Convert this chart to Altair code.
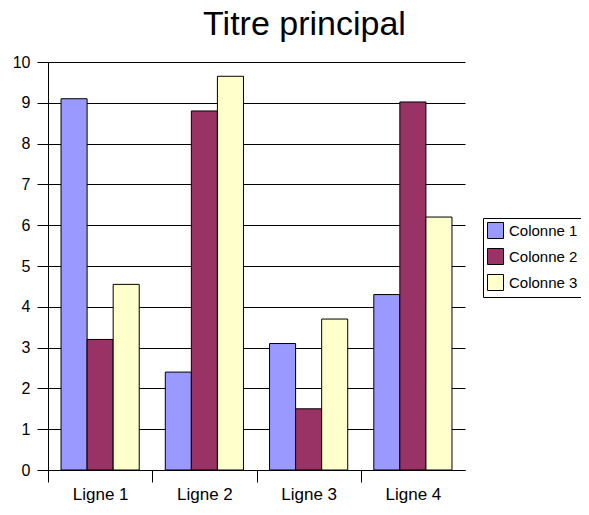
import altair as alt
import pandas as pd

categories = ["Ligne 1", "Ligne 2", "Ligne 3", "Ligne 4"]
series = ["Colonne 1", "Colonne 2", "Colonne 3"]
colonne1 = [9.1, 2.4, 3.1, 4.3]
colonne2 = [3.2, 8.8, 1.5, 9.02]
colonne3 = [4.55, 9.65, 3.7, 6.2]
colors = ["#9999FF", "#993366", "#FFFFCC"]

rows = []
for s, vals in zip(series, [colonne1, colonne2, colonne3]):
    for c, v in zip(categories, vals):
        rows.append({"Ligne": c, "Serie": s, "Valeur": v})
df = pd.DataFrame(rows)

FONT = "Liberation Sans"

chart = alt.Chart(df).mark_bar(stroke="black", strokeWidth=1).encode(
    x=alt.X("Ligne:N", sort=categories, title=None,
            scale=alt.Scale(paddingInner=0.25, paddingOuter=0.125),
            axis=alt.Axis(labelAngle=0, labelFontSize=17, labelFont=FONT, labelColor="black",
                          domainColor="black", tickColor="black", tickSize=12,
                          tickOffset=-52, labelOffset=52, labelPadding=4)),
    xOffset=alt.XOffset("Serie:N", sort=series,
                        scale=alt.Scale(paddingInner=0, paddingOuter=0)),
    y=alt.Y("Valeur:Q", title=None,
            scale=alt.Scale(domain=[0, 10], nice=False),
            axis=alt.Axis(values=list(range(0, 11)), labelFontSize=16, labelFont=FONT,
                          labelColor="black", domainColor="black", tickColor="black",
                          tickSize=11, labelPadding=7, gridColor="black", gridOpacity=1,
                          grid=True)),
    color=alt.Color("Serie:N", sort=series,
                    scale=alt.Scale(domain=series, range=colors),
                    legend=alt.Legend(title=None, orient="none", legendX=435, legendY=156,
                                      strokeColor="black", padding=4,
                                      symbolType="square", symbolSize=256,
                                      symbolStrokeColor="black", symbolStrokeWidth=1,
                                      symbolOpacity=1,
                                      labelFontSize=15, labelFont=FONT, labelColor="black",
                                      rowPadding=5, labelOffset=5)),
).properties(
    width=417,
    height=408,
    title=alt.Title("Titre principal", fontSize=34, font=FONT, fontWeight="normal",
                    color="black", anchor="middle", dx=48, offset=12),
    autosize=alt.AutoSizeParams(type="none"),
    padding={"left": 40, "top": 54, "right": 116, "bottom": 33},
).configure_view(stroke=None).configure_axis(grid=False).configure_axisY(grid=True)

chart.save("out.html", embed_options={"renderer": "svg", "actions": False})
